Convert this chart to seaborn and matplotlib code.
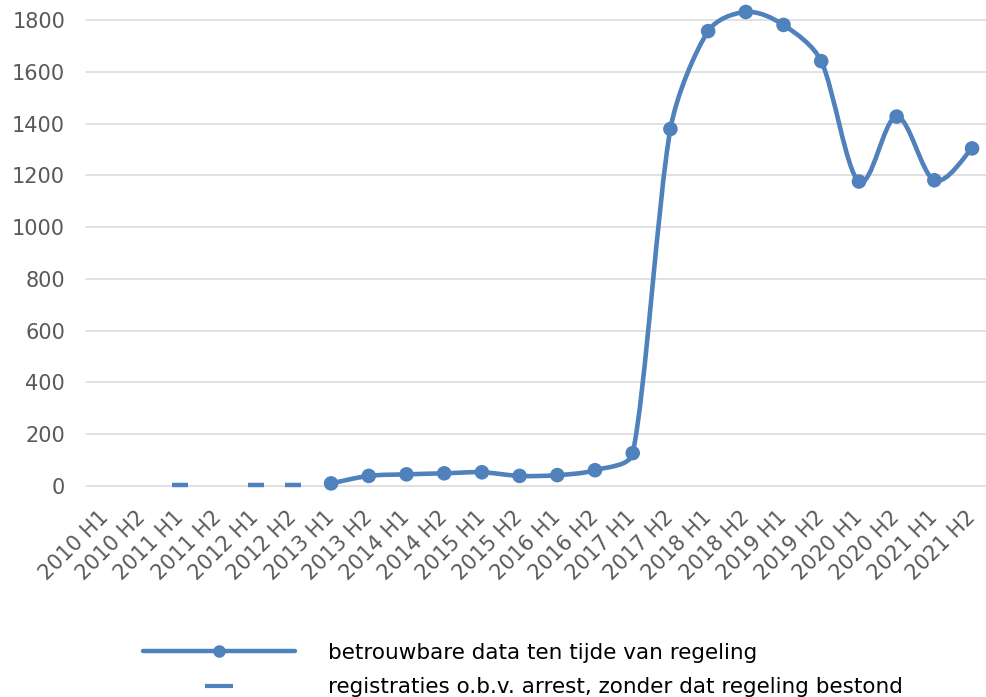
import numpy as np
import matplotlib
matplotlib.use("Agg")
import matplotlib.pyplot as plt
import matplotlib.transforms as mtransforms
from matplotlib.path import Path
from matplotlib.patches import PathPatch
from matplotlib.lines import Line2D
import seaborn as sns

# ---- data ----
categories = ["2010 H1", "2010 H2", "2011 H1", "2011 H2", "2012 H1", "2012 H2",
              "2013 H1", "2013 H2", "2014 H1", "2014 H2", "2015 H1", "2015 H2",
              "2016 H1", "2016 H2", "2017 H1", "2017 H2", "2018 H1", "2018 H2",
              "2019 H1", "2019 H2", "2020 H1", "2020 H2", "2021 H1", "2021 H2"]
reliable = [np.nan, np.nan, np.nan, np.nan, np.nan, np.nan,
            10, 39, 45, 49, 53, 39, 42, 61, 127, 1379, 1757, 1831,
            1781, 1641, 1176, 1427, 1181, 1304]
arrest = [np.nan, np.nan, 2, np.nan, 2, 2,
          np.nan, np.nan, np.nan, np.nan, np.nan, np.nan, np.nan, np.nan, np.nan, np.nan,
          np.nan, np.nan, np.nan, np.nan, np.nan, np.nan, np.nan, np.nan]
y_ticks = [0, 200, 400, 600, 800, 1000, 1200, 1400, 1600, 1800]
label_reliable = "betrouwbare data ten tijde van regeling"
label_arrest = "registraties o.b.v. arrest, zonder dat regeling bestond"

BLUE = "#4F81BD"
GRID = "#D9D9D9"
TXT = "#595959"
FS = 15

sns.set_style("white")
plt.rcParams["font.family"] = ["DejaVu Sans"]

fig = plt.figure(figsize=(9.86, 6.97), dpi=100)
ax = fig.add_axes([86 / 986, 1 - 486 / 697, 900 / 986, 466 / 697])

xpos = np.arange(len(categories))
ax.set_xlim(-0.5, 23.37)
ax.set_ylim(0, 1800)

# grid
ax.set_yticks(y_ticks)
ax.yaxis.grid(True, color=GRID, linewidth=1.1)
ax.xaxis.grid(False)
ax.set_axisbelow(True)
for gl in ax.get_ygridlines():
    gl.set_clip_on(False)
for s in ax.spines.values():
    s.set_visible(False)

# smoothed curve (Excel-like), control points in screen-proportional space
rel = np.array(reliable, dtype=float)
mask = ~np.isnan(rel)
xs = xpos[mask].astype(float)
ys = rel[mask]
sx, sy = 37.7, 466 / 1800
P = np.column_stack([xs * sx, ys * sy])
n = len(P)
verts = [tuple(P[0])]
codes = [Path.MOVETO]
for i in range(n - 1):
    p1, p2 = P[i], P[i + 1]
    p0 = P[i - 1] if i > 0 else P[i]
    p3 = P[i + 2] if i + 2 < n else P[i + 1]
    seg = np.linalg.norm(p2 - p1)
    d1 = (p2 - p0) / 6
    d2 = (p3 - p1) / 6
    l1, l2 = np.linalg.norm(d1), np.linalg.norm(d2)
    if l1 > seg / 3:
        d1 = d1 * (seg / 3) / l1
    if l2 > seg / 3:
        d2 = d2 * (seg / 3) / l2
    c1 = p1 + d1
    c2 = p2 - d2
    verts += [tuple(c1), tuple(c2), tuple(p2)]
    codes += [Path.CURVE4] * 3
verts = np.array(verts)
verts[:, 0] /= sx
verts[:, 1] /= sy
patch = PathPatch(Path(verts, codes), facecolor="none", edgecolor=BLUE, lw=3.3,
                  capstyle="round", joinstyle="round", clip_on=False, zorder=3)
ax.add_patch(patch)

sns.scatterplot(x=xs, y=ys, ax=ax, color=BLUE, s=110, edgecolor="none",
                zorder=4, clip_on=False, legend=False)

arr = np.array(arrest, dtype=float)
am = ~np.isnan(arr)
sns.lineplot(x=xpos[am], y=arr[am], ax=ax, color=BLUE, linestyle="none",
             marker="_", markersize=11, markeredgewidth=3.2,
             markeredgecolor=BLUE, zorder=4, legend=False, clip_on=False)

ax.set_xticks(xpos)
ax.set_xticklabels(categories, rotation=45, ha="right", va="top",
                   rotation_mode="anchor", color=TXT, fontsize=FS)
ax.set_yticklabels([str(v) for v in y_ticks], color=TXT, fontsize=FS)
ax.tick_params(axis="both", length=0)
ax.tick_params(axis="y", pad=15)
ax.tick_params(axis="x", pad=8)
off = mtransforms.ScaledTranslation(-7 / 100, -10 / 100, fig.dpi_scale_trans)
for lab in ax.get_xticklabels():
    lab.set_transform(lab.get_transform() + off)
ax.set_xlabel("")
ax.set_ylabel("")

handles = [
    Line2D([], [], color=BLUE, lw=3.2, marker="o", markersize=8),
    Line2D([], [], color=BLUE, linestyle="none", marker="_", markersize=19.5,
           markeredgewidth=3),
]
LFS = 15.5
fig.legend(handles, [label_reliable, label_arrest], loc="upper left",
           bbox_to_anchor=(143 / 986, 1 - 643 / 697), frameon=False,
           fontsize=LFS, handlelength=7.06, handletextpad=1.52, labelspacing=0.66,
           borderpad=0, borderaxespad=0, numpoints=1, labelcolor="black")

fig.savefig("out.png", dpi=100)
